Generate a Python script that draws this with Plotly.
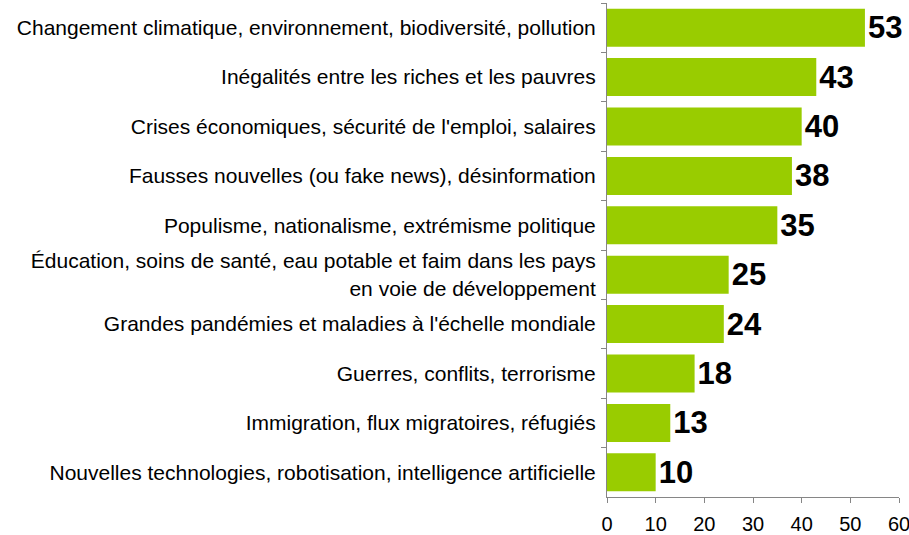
import plotly.graph_objects as go

categories = [
    "Changement climatique, environnement, biodiversité, pollution",
    "Inégalités entre les riches et les pauvres",
    "Crises économiques, sécurité de l'emploi, salaires",
    "Fausses nouvelles (ou fake news), désinformation",
    "Populisme, nationalisme, extrémisme politique",
    "Éducation, soins de santé, eau potable et faim dans les pays<br>en voie de développement",
    "Grandes pandémies et maladies à l'échelle mondiale",
    "Guerres, conflits, terrorisme",
    "Immigration, flux migratoires, réfugiés",
    "Nouvelles technologies, robotisation, intelligence artificielle",
]
values = [53, 43, 40, 38, 35, 25, 24, 18, 13, 10]
x_ticks = [0, 10, 20, 30, 40, 50, 60]

fig = go.Figure(go.Bar(
    x=values,
    y=categories,
    orientation="h",
    marker=dict(color="#99CC00", line=dict(width=0)),
    text=[str(v) for v in values],
    textposition="outside",
    textfont=dict(family="Liberation Sans, Arial, sans-serif", size=31, color="#000000", weight="bold"),
    cliponaxis=False,
))

fig.update_layout(
    width=909, height=535,
    margin=dict(l=607, r=10, t=3, b=38),
    paper_bgcolor="white", plot_bgcolor="white",
    bargap=0.23,
    showlegend=False,
    font=dict(family="Liberation Sans, Arial, sans-serif", size=21, color="#000000"),
    xaxis=dict(
        range=[0, 60], tickvals=x_ticks, showgrid=False, zeroline=False,
        showline=True, linecolor="#868686", linewidth=1,
        ticks="outside", ticklen=5, tickcolor="#868686",
        ticklabelstandoff=4,
        ticklabeloverflow="allow",
        tickfont=dict(size=20),
        automargin=False,
    ),
    yaxis=dict(
        autorange="reversed", showgrid=False, zeroline=False,
        showline=True, linecolor="#868686", linewidth=1,
        ticks="outside", ticklen=5, tickcolor="#868686",
        tickson="boundaries",
        ticklabelstandoff=6,
        tickfont=dict(size=21),
        automargin=False,
    ),
)

fig.write_html("out.html", config={"displayModeBar": False},
               post_script="document.body.style.margin='0';")
